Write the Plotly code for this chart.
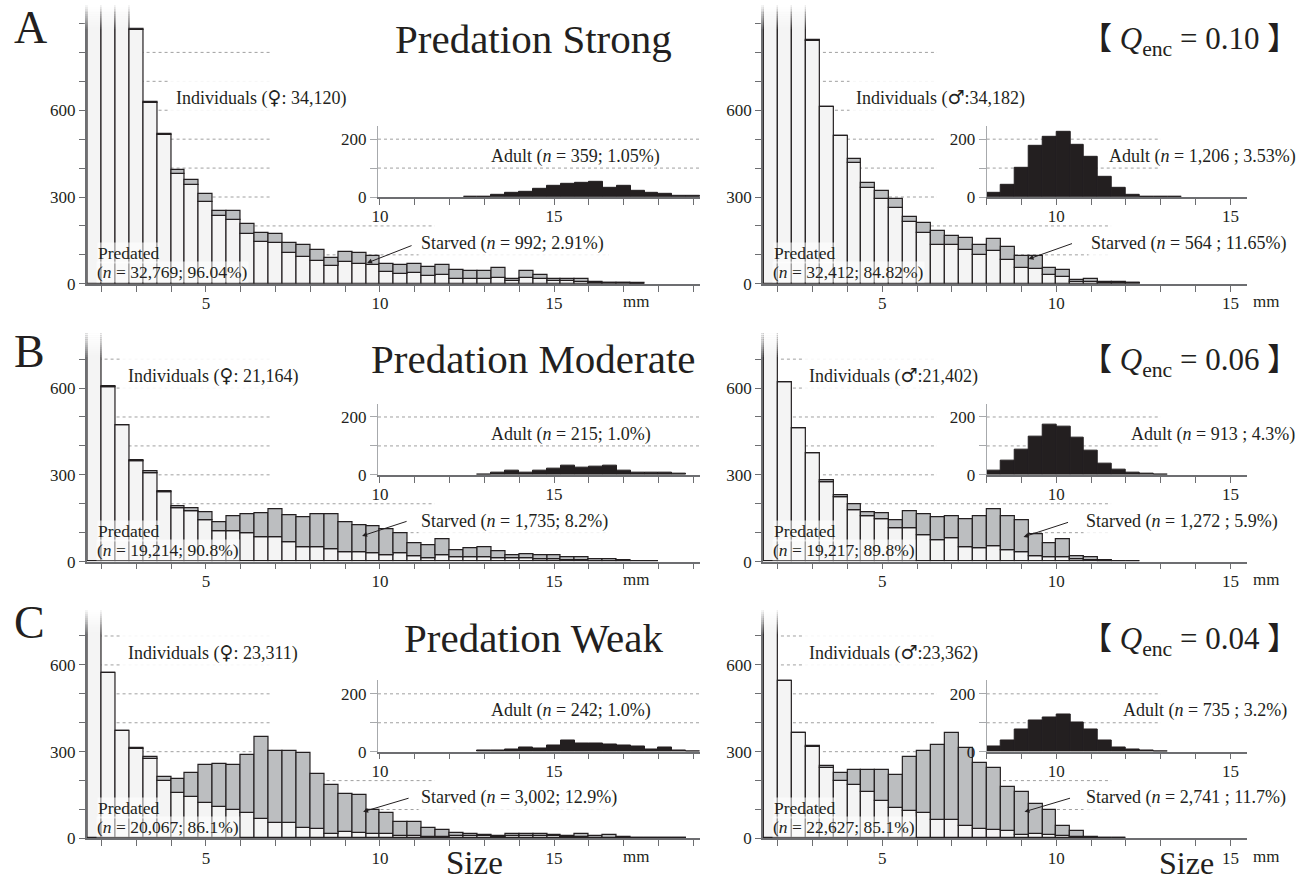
import plotly.graph_objects as go

# ---------------- data (counts per 0.4 mm size bin, first bin starts at 1.6 mm) ----------------
BIN_START = 1.6
BIN_W = 0.4

A_F_PRED = [15600, 8300, 4100, 879, 626, 513, 381, 341, 283, 235, 221, 172, 143, 140, 106, 92, 78, 60, 74, 69,
            65, 40, 34, 36, 26, 30, 18, 18, 15, 21, 9, 21, 15, 10, 9, 7, 3, 2, 2, 1]
A_F_STARVED = [0, 0, 0, 3, 4, 6, 12, 19, 28, 17, 31, 34, 33, 32, 35, 43, 39, 29, 37, 36,
               32, 29, 32, 34, 32, 34, 31, 27, 30, 32, 6, 24, 17, 8, 9, 9, 3, 1, 1, 1]
A_F_ADULT_START = 12.4
A_F_ADULT = [2, 2, 8, 14, 17, 29, 37, 45, 50, 54, 31, 40, 20, 13, 10, 3, 3]

A_M_PRED = [14800, 8700, 4400, 841, 610, 510, 416, 332, 294, 263, 212, 174, 135, 135, 118, 101, 112, 82, 56, 50,
            32, 24, 7, 7, 3, 3, 2]
A_M_STARVED = [0, 0, 0, 1, 3, 2, 15, 16, 27, 31, 19, 37, 48, 29, 39, 33, 43, 46, 39, 46,
               21, 23, 6, 11, 2, 2, 1]
A_M_ADULT_START = 8.0
A_M_ADULT = [15, 43, 100, 178, 208, 227, 179, 139, 71, 33, 8, 2, 1, 1]

B_F_PRED = [15700, 603, 471, 347, 307, 241, 186, 174, 144, 106, 106, 97, 83, 86, 68, 49, 49, 43, 34, 34,
            30, 23, 28, 17, 13, 23, 16, 16, 16, 13, 10, 10, 8, 8, 6, 5, 3, 3, 2, 1, 1]
B_F_STARVED = [0, 2, 2, 4, 4, 2, 6, 10, 27, 29, 51, 66, 83, 94, 93, 103, 116, 122, 103, 93,
               93, 89, 70, 48, 42, 56, 25, 29, 32, 22, 12, 17, 14, 14, 8, 9, 5, 5, 4, 2, 2]
B_F_ADULT_START = 12.8
B_F_ADULT = [2, 6, 14, 6, 14, 23, 32, 25, 29, 32, 14, 9, 9, 6, 3]

B_M_PRED = [16000, 620, 462, 374, 274, 224, 179, 158, 145, 115, 115, 92, 75, 81, 50, 47, 52, 40, 33, 19,
            16, 16, 7, 6, 2, 2, 1]
B_M_STARVED = [0, 0, 0, 2, 7, 4, 19, 12, 21, 29, 58, 72, 78, 77, 97, 109, 129, 116, 109, 77,
               46, 61, 11, 10, 4, 1, 1]
B_M_ADULT_START = 8.0
B_M_ADULT = [14, 49, 86, 131, 175, 166, 128, 82, 40, 17, 8, 3, 1]

C_F_PRED = [17200, 573, 372, 310, 275, 200, 158, 143, 124, 109, 97, 89, 66, 54, 52, 37, 31, 14, 23, 17,
            15, 15, 9, 8, 6, 6, 8, 8, 7, 5, 7, 7, 7, 7, 5, 5, 3, 3, 2, 1, 1, 0, 0]
C_F_STARVED = [0, 0, 0, 3, 8, 12, 48, 84, 131, 149, 156, 198, 283, 247, 251, 258, 190, 169, 132, 134,
               82, 73, 47, 47, 31, 22, 11, 8, 6, 3, 9, 7, 9, 6, 3, 11, 5, 7, 3, 1, 1, 1, 1]
C_F_ADULT_START = 12.8
C_F_ADULT = [3, 3, 7, 15, 11, 23, 40, 29, 30, 26, 21, 17, 9, 14, 3, 1]

C_M_PRED = [19900, 544, 363, 315, 243, 200, 185, 160, 128, 105, 95, 88, 63, 63, 44, 32, 29, 26, 10, 14,
            10, 8, 5, 2, 1, 1]
C_M_STARVED = [0, 0, 0, 3, 7, 27, 50, 75, 107, 115, 186, 215, 260, 303, 267, 228, 214, 151, 152, 106,
               88, 34, 19, 3, 1, 0]
C_M_ADULT_START = 8.0
C_M_ADULT = [17, 38, 78, 108, 118, 128, 101, 78, 38, 15, 9, 3, 1]

ROW_LETTERS = ["A", "B", "C"]
ROW_TITLES = ["Predation Strong", "Predation Moderate", "Predation Weak"]
ROW_QENC = ["0.10", "0.06", "0.04"]
SEX_SYMBOLS = ["♀", "♂"]
INDIV_COUNTS = [["34,120", "34,182"], ["21,164", "21,402"], ["23,311", "23,362"]]
ADULT_LABELS = [["Adult (<i>n</i> = 359; 1.05%)", "Adult (<i>n</i> = 1,206 ; 3.53%)"],
                ["Adult (<i>n</i> = 215; 1.0%)", "Adult (<i>n</i> = 913 ; 4.3%)"],
                ["Adult (<i>n</i> = 242; 1.0%)", "Adult (<i>n</i> = 735 ; 3.2%)"]]
STARVED_LABELS = [["Starved (<i>n</i> = 992; 2.91%)", "Starved (<i>n</i> = 564 ; 11.65%)"],
                  ["Starved (<i>n</i> = 1,735; 8.2%)", "Starved (<i>n</i> = 1,272 ; 5.9%)"],
                  ["Starved (<i>n</i> = 3,002; 12.9%)", "Starved (<i>n</i> = 2,741 ; 11.7%)"]]
PRED_LABELS = [["(<i>n</i> = 32,769; 96.04%)", "(<i>n</i> = 32,412; 84.82%)"],
               ["(<i>n</i> = 19,214; 90.8%)", "(<i>n</i> = 19,217; 89.8%)"],
               ["(<i>n</i> = 20,067; 86.1%)", "(<i>n</i> = 22,627; 85.1%)"]]
MAIN_TICK_LABELS = {0: "0", 300: "300", 600: "600"}
X_TICK_LABELS = {5: "5", 10: "10", 15: "15"}
INSET_Y_LABELS = {0: "0", 200: "200"}

DATA = [[(A_F_PRED, A_F_STARVED, A_F_ADULT_START, A_F_ADULT), (A_M_PRED, A_M_STARVED, A_M_ADULT_START, A_M_ADULT)],
        [(B_F_PRED, B_F_STARVED, B_F_ADULT_START, B_F_ADULT), (B_M_PRED, B_M_STARVED, B_M_ADULT_START, B_M_ADULT)],
        [(C_F_PRED, C_F_STARVED, C_F_ADULT_START, C_F_ADULT), (C_M_PRED, C_M_STARVED, C_M_ADULT_START, C_M_ADULT)]]

# ---------------- geometry / style ----------------
W, H = 1309, 887
FONT = "Liberation Serif, Noto Sans CJK JP"
INK = "#231f20"
PRED_FILL = "#f4f4f4"
STARV_FILL = "#bcbec0"
AXIS_COL = "#6d6e71"
GRID_COL = "#a0a0a0"

ROW_BASE = [287, 568, 848]
ROW_TOP = [3, 335, 615]
LETTER_Y = [28, 356, 630]
TITLE_Y = [39, 363, 645]
QENC_Y = [41, 366, 648]
PPU = 0.2925                      # px per count
MM_ORIGIN = [25, 705]             # px of 0 mm
PPM = 35                          # px per mm
MAIN_X = [(80, 697), (760, 1247)]
INSET_X = [(373, 697), (985, 1247)]
INSET_H = 72
MAIN_YMAX_TICK = [900, 700, 700]
GRID_MAX = [800, 700, 700]
GRID_END_HI = [267, 935]
GRID_END_200 = [430, 1110]
GRID_END_100 = [605, 1110]
INSET_GRID_END = [697, 1160]

INDIV_X = [[163, 847], [115, 799], [115, 799]]
ADULT_X = [[485, 1106], [485, 1128], [485, 1120]]
STARV_X = [[413, 1087], [413, 1082], [413, 1082]]
MM_X = [617, 1251]
ARROWS = [[((362, 266), (408, 248)), ((1027, 262), (1072, 246))],
          [((357, 542), (403, 527)), ((1022, 543), (1068, 528))],
          [((358, 821), (405, 807)), ((1023, 821), (1070, 807))]]


def fx(px):
    return px / W


def fy(py):
    return 1 - py / H


def mm(col, px):
    return (px - MM_ORIGIN[col]) / PPM


fig = go.Figure()
layout = dict(width=W, height=H, margin=dict(l=0, r=0, t=0, b=0),
              paper_bgcolor="white", plot_bgcolor="rgba(0,0,0,0)",
              showlegend=False, barmode="overlay", bargap=0,
              font=dict(family=FONT, color=INK, size=17))
shapes = []
annotations = []


def ann(text, x, y, size=18, xanchor="left", yanchor="middle", **kw):
    d = dict(text=text, x=fx(x), y=fy(y), xref="paper", yref="paper", showarrow=False,
             xanchor=xanchor, yanchor=yanchor, font=dict(family=FONT, size=size, color=INK))
    d.update(kw)
    annotations.append(d)


def axis_common(tickcolor, linecolor, linewidth, ticklen):
    return dict(ticks="outside", ticklen=ticklen, tickcolor=tickcolor, tickwidth=1,
                showline=True, linecolor=linecolor, linewidth=linewidth,
                showgrid=False, zeroline=False,
                tickfont=dict(family=FONT, size=17, color=INK))


for r in range(3):
    base = ROW_BASE[r]
    top = ROW_TOP[r]
    ymax = (base - top) / PPU
    ibase = base - 300 * PPU
    itop = ibase - INSET_H
    iymax = (ibase - itop) / PPU
    for c in range(2):
        pred, starved, a_start, adult = DATA[r][c]
        k = r * 2 + c + 1          # main axis index
        ki = 6 + k                 # inset axis index
        xs = f"x{k}"; ys = f"y{k}"
        xsi = f"x{ki}"; ysi = f"y{ki}"
        centers = [BIN_START + BIN_W * (i + 0.5) for i in range(len(pred))]
        fig.add_trace(go.Bar(x=centers, y=pred, width=BIN_W, xaxis=xs, yaxis=ys,
                             marker=dict(color=PRED_FILL, line=dict(color=INK, width=1.2)),
                             hoverinfo="skip"))
        fig.add_trace(go.Bar(x=centers, y=starved, base=pred, width=BIN_W, xaxis=xs, yaxis=ys,
                             marker=dict(color=STARV_FILL, line=dict(color=INK, width=1.2)),
                             hoverinfo="skip"))
        acenters = [a_start + BIN_W * (i + 0.5) for i in range(len(adult))]
        fig.add_trace(go.Bar(x=acenters, y=adult, width=BIN_W, xaxis=xsi, yaxis=ysi,
                             marker=dict(color=INK, line=dict(color=INK, width=1)),
                             hoverinfo="skip"))

        x0, x1 = MAIN_X[c]
        xmax_mm = mm(c, x1)
        xt = list(range(2, int(xmax_mm) + 1))
        ax = axis_common(AXIS_COL, AXIS_COL, 1.5, 6)
        ax.update(domain=[fx(x0), fx(x1)], range=[mm(c, x0), xmax_mm], anchor=ys,
                  tickvals=xt, ticktext=[X_TICK_LABELS.get(v, "") for v in xt], ticklabelstandoff=-3)
        layout[f"xaxis{k}"] = ax
        yt = list(range(0, MAIN_YMAX_TICK[r] + 1, 100))
        ay = axis_common(AXIS_COL, AXIS_COL, 1.5, 6)
        ay.update(domain=[fy(base), fy(top)], range=[0, ymax], anchor=xs,
                  tickvals=yt, ticktext=[MAIN_TICK_LABELS.get(v, "") for v in yt])
        layout[f"yaxis{k}"] = ay

        ix0, ix1 = INSET_X[c]
        ixmax = mm(c, ix1)
        ixt = list(range(int(mm(c, ix0) + 0.99), int(ixmax) + 1))
        axi = axis_common(AXIS_COL, AXIS_COL, 1.5, 6)
        axi.update(domain=[fx(ix0), fx(ix1)], range=[mm(c, ix0), ixmax], anchor=ysi,
                   tickvals=ixt, ticktext=[X_TICK_LABELS.get(v, "") for v in ixt], ticklabelstandoff=-3)
        layout[f"xaxis{ki}"] = axi
        ayi = axis_common("#a7a9ac", "#a7a9ac", 1, 7)
        ayi.update(domain=[fy(ibase), fy(itop)], range=[0, iymax], anchor=xsi,
                   tickvals=[0, 100, 200], ticktext=[INSET_Y_LABELS.get(v, "") for v in [0, 100, 200]])
        layout[f"yaxis{ki}"] = ayi

        # dotted grid segments (main)
        for v in range(100, GRID_MAX[r] + 1, 100):
            xe = GRID_END_HI[c] if v >= 300 else (GRID_END_200[c] if v == 200 else GRID_END_100[c])
            shapes.append(dict(type="line", xref="paper", yref=ys, x0=fx(x0), x1=fx(xe), y0=v, y1=v,
                               line=dict(color=GRID_COL, width=1, dash="dot"), layer="below"))
        for v in (100, 200):
            shapes.append(dict(type="line", xref="paper", yref=ysi, x0=fx(ix0), x1=fx(INSET_GRID_END[c]),
                               y0=v, y1=v, line=dict(color=GRID_COL, width=1, dash="dot"), layer="below"))
        # fade at top of clipped bars
        nstrip = 13
        for s in range(nstrip):
            y_hi = top - 4 if s == 0 else top + 2 * s
            shapes.append(dict(type="rect", xref="paper", yref="paper",
                               x0=fx(x0 - 3), x1=fx(x0 + 60), y0=fy(top + 2 * s + 2), y1=fy(y_hi),
                               line=dict(width=0), fillcolor="white", opacity=1 - s / nstrip, layer="above"))

        # labels
        sym = ('<span style="font-family:DejaVu Sans;font-size:19px;font-weight:bold">'
               + SEX_SYMBOLS[c] + '</span>')
        sep = ": " if c == 0 else ":"
        ann("Individuals (" + sym + sep + INDIV_COUNTS[r][c] + ")", INDIV_X[r][c], base - 188, size=18,
            bgcolor="rgba(255,255,255,0.9)", borderpad=6)
        ann(ADULT_LABELS[r][c], ADULT_X[r][c], base - 129, size=18)
        ann(STARVED_LABELS[r][c], STARV_X[r][c], base - 41, size=18,
            bgcolor="rgba(255,255,255,0.85)", borderpad=2)
        px0 = MAIN_X[c][0] + 10
        ann("Predated", px0, base - 31, size=17.5, bgcolor="rgba(255,255,255,0.55)", borderpad=0)
        ann(PRED_LABELS[r][c], px0 - 1, base - 12, size=17.5, bgcolor="rgba(255,255,255,0.55)", borderpad=0)
        (hx, hy), (tx, ty) = ARROWS[r][c]
        annotations.append(dict(text="", x=fx(hx), y=fy(hy), xref="paper", yref="paper", showarrow=True,
                                ax=tx - hx, ay=ty - hy, arrowhead=2, arrowsize=1, arrowwidth=1,
                                arrowcolor=INK))
        ann("mm", MM_X[c], base + 18, size=17, xanchor="left")

    ann(ROW_LETTERS[r], 5, LETTER_Y[r], size=46)
    ann(ROW_TITLES[r], 529, TITLE_Y[r], size=41, xanchor="center")
    ann("【 <i>Q</i><sub>enc</sub> = " + ROW_QENC[r] + " 】", 1300, QENC_Y[r], size=31, xanchor="right")

ann("Size", 470, 873, size=33, xanchor="center")
ann("Size", 1186, 873, size=32, xanchor="center")

layout["shapes"] = shapes
layout["annotations"] = annotations
fig.update_layout(**layout)
fig.write_html("out.html")
